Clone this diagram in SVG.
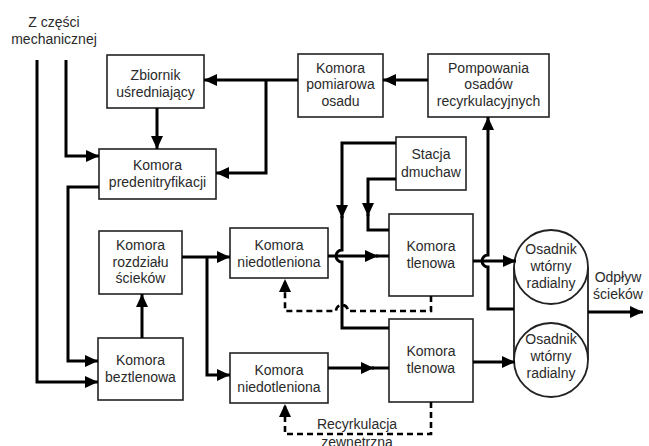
<svg xmlns="http://www.w3.org/2000/svg" width="649" height="446" viewBox="0 0 649 446">
<style>
.box{fill:#fff;stroke:#222;stroke-width:1.6}
.t{font-family:"Liberation Sans",Arial,sans-serif;font-size:14px;fill:#2a2a2a;text-anchor:middle}
.c{fill:none;stroke:#000;stroke-width:3;stroke-linejoin:miter}
.d{fill:none;stroke:#000;stroke-width:2.6;stroke-dasharray:6,4}
.thin{fill:none;stroke:#222;stroke-width:1.8}
</style>
<defs>
<marker id="ah" markerUnits="userSpaceOnUse" markerWidth="14" markerHeight="12" refX="13" refY="6" orient="auto">
<path d="M0,0 L13,6 L0,12 z" fill="#000"/>
</marker>
</defs>
<rect width="649" height="446" fill="#fff"/>

<g id="title">
<text class="t" x="54" y="27">Z części</text>
<text class="t" x="54" y="44">mechanicznej</text>
</g>

<g id="zbiornik"><rect class="box" x="107" y="55" width="97" height="53"/>
<text class="t" x="155.5" y="80">Zbiornik</text><text class="t" x="155.5" y="97">uśredniający</text></g>

<g id="pomiarowa"><rect class="box" x="298" y="54" width="85" height="63"/>
<text class="t" x="340.5" y="73">Komora</text><text class="t" x="340.5" y="89">pomiarowa</text><text class="t" x="340.5" y="106">osadu</text></g>

<g id="pompowania"><rect class="box" x="428" y="54" width="121" height="63"/>
<text class="t" x="488.5" y="73">Pompowania</text><text class="t" x="488.5" y="89">osadów</text><text class="t" x="488.5" y="106">recyrkulacyjnych</text></g>

<g id="predenit"><rect class="box" x="99" y="149" width="117" height="50"/>
<text class="t" x="157.5" y="170">Komora</text><text class="t" x="157.5" y="187">predenitryfikacji</text></g>

<g id="stacja"><rect class="box" x="396" y="137" width="70" height="53"/>
<text class="t" x="431" y="159">Stacja</text><text class="t" x="431" y="177">dmuchaw</text></g>

<g id="rozdzial"><rect class="box" x="99" y="231" width="83" height="63"/>
<text class="t" x="140.5" y="250">Komora</text><text class="t" x="140.5" y="267">rozdziału</text><text class="t" x="140.5" y="283">ścieków</text></g>

<g id="beztlenowa"><rect class="box" x="98" y="338" width="85" height="62"/>
<text class="t" x="140.5" y="365">Komora</text><text class="t" x="140.5" y="382">beztlenowa</text></g>

<g id="niedot1"><rect class="box" x="230" y="228" width="98" height="50"/>
<text class="t" x="279" y="250">Komora</text><text class="t" x="279" y="267">niedotleniona</text></g>

<g id="niedot2"><rect class="box" x="230" y="353" width="98" height="50"/>
<text class="t" x="279" y="375">Komora</text><text class="t" x="279" y="392">niedotleniona</text></g>

<g id="tlenowa1"><rect class="box" x="389" y="214" width="84" height="82"/>
<text class="t" x="431" y="251">Komora</text><text class="t" x="431" y="268">tlenowa</text></g>

<g id="tlenowa2"><rect class="box" x="389" y="319" width="84" height="83"/>
<text class="t" x="431" y="356">Komora</text><text class="t" x="431" y="373">tlenowa</text></g>

<g id="osadniki">
<path class="thin" d="M514,267 V360 M588,267 V360"/>
<circle cx="551" cy="267" r="37" fill="#fff" stroke="#222" stroke-width="1.8"/>
<circle cx="551" cy="360" r="37" fill="#fff" stroke="#222" stroke-width="1.8"/>
<text class="t" x="551" y="254">Osadnik</text><text class="t" x="551" y="271">wtórny</text><text class="t" x="551" y="288">radialny</text>
<text class="t" x="551" y="344">Osadnik</text><text class="t" x="551" y="361">wtórny</text><text class="t" x="551" y="378">radialny</text>
</g>

<g id="labels">
<text class="t" x="618" y="282">Odpływ</text><text class="t" x="618" y="299">ścieków</text>
<text class="t" x="357" y="429">Recyrkulacja</text>
<text class="t" x="357" y="447">zewnętrzna</text>
</g>

<g id="connectors">
<path class="c" d="M428,80 H383" marker-end="url(#ah)"/>
<path class="c" d="M298,80 H204" marker-end="url(#ah)"/>
<path class="c" d="M266,80 V173 H216" marker-end="url(#ah)"/>
<path class="c" d="M157,108 V149" marker-end="url(#ah)"/>
<path class="c" d="M66,60 V156 H99" marker-end="url(#ah)"/>
<path class="c" d="M37,60 V382 H98" marker-end="url(#ah)"/>
<path class="c" d="M99,187 H68 V361 H98" marker-end="url(#ah)"/>
<path class="c" d="M142,338 V294" marker-end="url(#ah)"/>
<path class="c" d="M182,257 H230" marker-end="url(#ah)"/>
<path class="c" d="M207,257 V375 H230" marker-end="url(#ah)"/>
<path class="c" d="M328,256 H378" marker-end="url(#ah)"/>
<path class="c" d="M376,256 H389"/>
<path class="c" d="M328,368 H374" marker-end="url(#ah)"/>
<path class="c" d="M372,368 H389"/>
<path class="c" d="M396,143 H342 V218" marker-end="url(#ah)"/>
<path class="c" d="M342,216 V250 A6,6 0 0 0 342,262 V328 H389"/>
<path class="c" d="M396,179 H368 V216" marker-end="url(#ah)"/>
<path class="c" d="M368,214 V230 H389"/>
<path class="c" d="M473,261 H516" marker-end="url(#ah)"/>
<path class="c" d="M473,362 H515" marker-end="url(#ah)"/>
<path class="c" d="M514,309 H488 V267 A6,6 0 0 1 488,255 V117" marker-end="url(#ah)"/>
<path class="c" d="M588,312 H643" marker-end="url(#ah)"/>
<path class="d" d="M431,296 V311 H348 A6,6 0 0 0 336,311 H285 V279" marker-end="url(#ah)"/>
<path class="d" d="M431,402 V434 H285 V404" marker-end="url(#ah)"/>
</g>
</svg>
